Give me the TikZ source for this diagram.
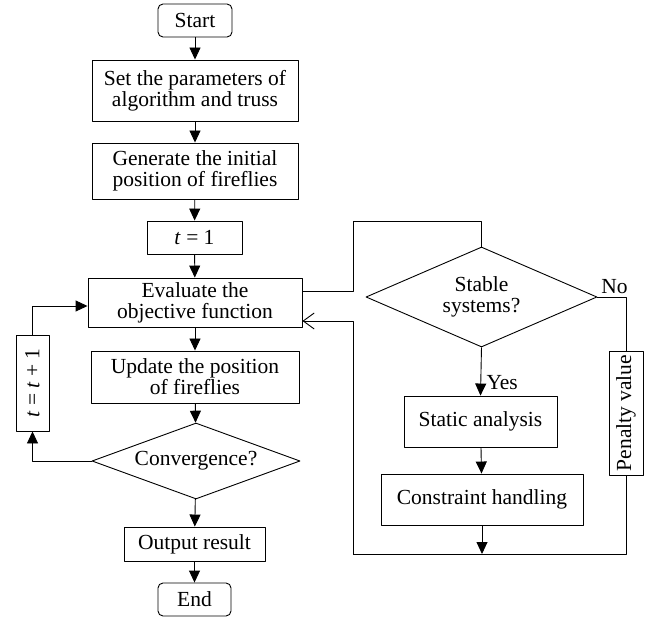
\documentclass[tikz,border=0pt]{standalone}
\usepackage{fontspec}
\setmainfont{Liberation Serif}
\usetikzlibrary{shapes.geometric,arrows.meta}
\tikzset{
  box/.style={draw, rectangle, align=center, inner sep=0pt},
  rbox/.style={box, rounded corners=5pt},
  dec/.style={draw, diamond, align=center, inner sep=0pt}
}
\begin{document}
\begin{tikzpicture}[x=1pt, y=-1pt, line width=0.9pt, line join=round,
    >={Triangle[length=12pt,width=11pt]}, font=\fontsize{21.5}{21}\selectfont]
    \useasboundingbox (0,0) rectangle (649,623);
    % main column
    \node[rbox, minimum width=74pt, minimum height=33pt] (start) at (195,20.5) {Start};
    \node[box, minimum width=206pt, minimum height=61pt] (setp) at (195,90.5) {Set the parameters of\\algorithm and truss};
    \node[box, minimum width=206pt, minimum height=56pt] (gen) at (195,171) {Generate the initial\\position of fireflies};
    \node[box, minimum width=95pt, minimum height=33pt] (tone) at (194.5,237.5) {\textit{t} = 1};
    \node[box, minimum width=214pt, minimum height=49pt] (eval) at (195,302.5) {Evaluate the\\objective function};
    \node[box, minimum width=208pt, minimum height=52pt] (upd) at (195,377) {Update the position\\of fireflies};
    \node[dec, aspect=2.74, minimum width=208pt, minimum height=76pt] (conv) at (196,461) {Convergence?};
    \node[box, minimum width=141pt, minimum height=34pt] (out) at (194.5,544) {Output result};
    \node[rbox, minimum width=73pt, minimum height=33pt] (fin) at (194.5,599.5) {End};
    \node[box, rotate=90, minimum width=96pt, minimum height=33pt] (tinc) at (32.5,383) {\textit{t} = \textit{t} + 1};
    % right column
    \node[dec, aspect=2.31, minimum width=231pt, minimum height=100pt] (stab) at (481.5,297) {Stable\\systems?};
    \node[box, minimum width=153pt, minimum height=51pt] (stat) at (480.5,421.5) {Static analysis};
    \node[box, minimum width=202pt, minimum height=51pt] (cons) at (482,499.5) {Constraint handling};
    \node[box, rotate=90, minimum width=124pt, minimum height=34pt] (pen) at (626,413) {Penalty value};
    \coordinate (up) at (353,221);
    \coordinate (low) at (353,554);
    % connectors
    \draw[->] (start) -- (setp);
    \draw[->] (setp) -- (gen);
    \draw[->] (gen) -- (tone);
    \draw[->] (tone) -- (eval);
    \draw[->] (eval) -- (upd);
    \draw[->] (upd) -- (conv);
    \draw[->] (conv) -- (out);
    \draw[->] (out) -- (fin);
    \draw[->] (conv.west) -| (tinc.west);
    \draw[->] (tinc.east) |- (eval.west |- 0,306);
    \draw (eval.east |- 0,291) -| (up) -| (stab.north);
    \draw[->] (stab.south) -- node[right=2pt, pos=0.72]{Yes} (stat.north);
    \draw[->] (stat) -- (cons);
    \draw (stab.east) -| node[pos=0.3, above]{No} (pen.east);
    \draw (pen.west) |- (low);
    \draw[->] (cons.south) -- (cons.south |- low);
    \draw[-{Straight Barb[length=11pt,width=16pt]}] (low) |- (eval.east |- 0,321);
\end{tikzpicture}
\end{document}
